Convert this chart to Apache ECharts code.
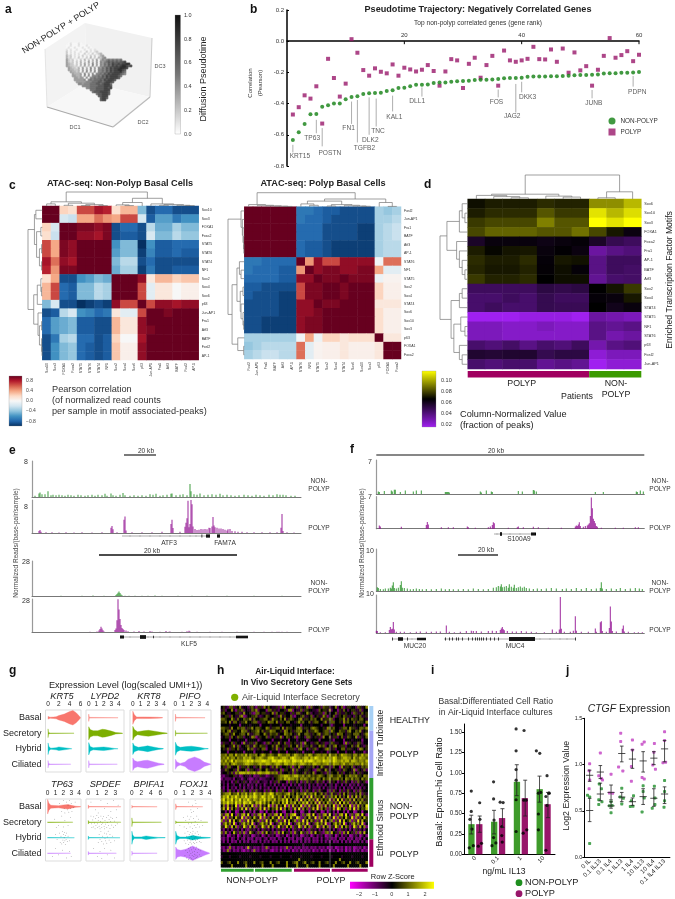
<!DOCTYPE html>
<html><head><meta charset="utf-8"><title>Figure</title>
<style>html,body{margin:0;padding:0;background:#fff}#c{width:675px;height:899px}</style>
<script src="https://cdn.jsdelivr.net/npm/echarts@6/dist/echarts.min.js"></script>
</head><body><div id="c"></div>
<script>
const FONT='"Liberation Sans",Arial,sans-serif';
const GREEN='#1f8f1f',PURPLE='#9b1b6b',TRACKG='#1c8c1c',TRACKP='#8b008b';

/* ---------- panel a: pseudotime cloud (grey level per cell, 0 white .. 9 black) ---------- */
const cloudRows=[
"..0100010",
".001000100010",
".0100100010010",
".101001000100101",
".2010100100201012",
".201010100201020123",
".3120101020102020134",
".31201020102030203245",
".4212010203020304035456565656",
".421202030204030405456767676778",
".43220203040305040546576877878899",
".432212030403050405465768787899878",
"..432213040305040546576878889998",
"..43322304040504055657687889987",
"...4332304050405055657687888976",
"....433340504050556576878888765",
"....4433405050555657687888876",
".....44344050556566768788887",
".....444445056566676878887",
"......4444455566677678887",
".......55455566677678886",
".........555566667778887",
"...........5566677778878",
".............6667777888",
"..............677788887",
"................6778887",
".................77888",
"..................7887",
"..................788"];

/* ---------- panel b ---------- */
const bNonPolyp=[-.634,-.583,-.53,-.468,-.466,-.42,-.41,-.4,-.4,-.372,-.357,-.353,-.338,-.334,-.332,-.33,-.319,-.315,-.3,-.298,-.289,-.279,-.279,-.277,-.268,-.264,-.264,-.26,-.257,-.255,-.253,-.249,-.247,-.247,-.245,-.243,-.238,-.236,-.236,-.234,-.228,-.227,-.227,-.226,-.225,-.224,-.223,-.221,-.219,-.217,-.216,-.215,-.214,-.207,-.206,-.205,-.203,-.202,-.2,-.198];
const bPolyp=[-.47,-.423,-.347,-.368,-.289,-.528,-.113,-.236,-.355,-.272,.013,-.074,-.185,-.221,-.174,-.196,-.206,-.149,-.221,-.17,-.181,-.194,-.183,-.153,-.191,-.285,-.194,-.115,-.123,-.3,-.145,-.106,-.234,-.153,-.094,-.285,-.06,-.123,-.132,-.123,-.113,-.036,-.115,-.117,-.053,-.132,-.047,-.202,-.072,-.187,-.16,-.285,-.183,-.094,.02,-.106,-.089,-.064,-.128,-.087];
const bTicks=[20,40,60];
/* name, label rank, label value, leader rank, leader from, leader to */
const bGenes=[["KRT15",2.2,-.74,1,-.664,-.713],["TP63",4.3,-.62,5,-.504,-.59],["POSTN",7.3,-.715,6,-.557,-.674],["FN1",10.5,-.56,11,-.387,-.53],["TGFB2",13.2,-.687,12,-.377,-.649],["DLK2",14.2,-.634,14,-.36,-.6],["TNC",15.5,-.577,15.2,-.368,-.547],["KAL1",18.3,-.49,18,-.349,-.45],["DLL1",22.2,-.385,23,-.296,-.355],["FOS",35.7,-.39,36,-.31,-.36],["JAG2",38.4,-.483,39,-.274,-.457],["DKK3",41,-.357,40,-.26,-.328],["JUNB",52.3,-.398,52,-.313,-.366],["PDPN",59.7,-.328,59,-.223,-.291]];

/* ---------- panel c ---------- */
const cLeftLabels=["Sox10","Sox3","FOXA1","Foxa2","STAT5","STAT6","STAT4","NF1","Sox2","Sox4","Sox6","p63","Jun-AP1","Fra1","Atf3","BATF","Fosl2","AP-1"];
const cLeft=[
[9,9,2,1.5,6,6,7.5,7,1.5,3,3,-4,-8,-7,-7,-8,-8,-8],
[9,9,-1.5,-2,3.5,3.5,5,4,3.5,6,6,-1.5,-7.5,-5,-5,-6.5,-5.5,-5.5],
[2,-1.5,9,9,8.5,8.5,8,8.5,-8,-7,-7,-8,-2.5,-4.5,-4.5,-3,-4,-4],
[1.5,-2,9,9,8,8,7.5,8.5,-8,-7.5,-7.5,-8,-1.5,-4,-4,-2.5,-3.5,-3.5],
[6,3.5,8.5,8,9,9,9,9,-5.5,-4,-4,-9,-5.5,-7.5,-7.5,-7,-7,-7],
[6,3.5,8.5,8,9,9,9,9,-5,-4,-4,-8.5,-6,-7.5,-7.5,-7,-7.5,-7.5],
[7.5,5,8,7.5,9,9,9,9,-4,-2.5,-2.5,-8,-7,-8,-8,-8,-8,-8],
[7,4,8.5,8.5,9,9,9,9,-4.5,-3,-3,-8.5,-6.5,-8,-8,-7.5,-7.5,-7.5],
[1.5,3.5,-8,-8,-5.5,-5,-4,-4.5,9,9,9,8,1,3,3,2,2.5,2.5],
[3,6,-7,-7.5,-4,-4,-2.5,-3,9,9,9,6,-1,1,1,0,.5,.5],
[3,6,-7,-7.5,-4,-4,-2.5,-3,9,9,9,6,-1,1,1,0,.5,.5],
[-4,-1.5,-8,-8,-9,-8.5,-8,-8.5,8,6,6,9,6,8,8,7.5,8,8],
[-8,-7.5,-2.5,-1.5,-5.5,-6,-7,-6.5,1,-1,-1,6,9,9,8.5,9,9,9],
[-7,-5,-4.5,-4,-7.5,-7.5,-8,-8,3,1,1,8,9,9,9,9,9,9],
[-7,-5,-4.5,-4,-7.5,-7.5,-8,-8,3,1,1,8,8.5,9,9,9,9,9],
[-8,-6.5,-3,-2.5,-7,-7,-8,-7.5,2,0,0,7.5,9,9,9,9,9,9],
[-8,-5.5,-4,-3.5,-7,-7.5,-8,-7.5,2.5,.5,.5,8,9,9,9,9,9,9],
[-8,-5.5,-4,-3.5,-7,-7.5,-8,-7.5,2.5,.5,.5,8,9,9,9,9,9,9]];
const cRightLabels=["Fosl2","Jun-AP1","Fra1","BATF","Atf3","AP-1","STAT6","NF1","STAT5","Sox2","Sox4","STAT4","Sox6","Sox10","Sox3","p63","FOXA1","Foxa2"];
const cRight=[
[9,9,9,9,9,9,-6.5,-6.5,-7,-7.5,-7.5,-8,-8,-8,-8,-3,-3.5,-3],
[9,9,9,9,9,9,-6.5,-7,-7,-7.5,-8,-8,-8,-8,-8,-3,-3,-2.5],
[9,9,9,9,9,9,-7,-7,-7,-8,-8,-8,-8,-8.5,-8.5,-3,-2.5,-2],
[9,9,9,9,9,9,-7,-7,-7,-8,-8,-8,-8,-8.5,-8.5,-3,-2.5,-2],
[9,9,9,9,9,9,-7,-7.5,-7.5,-8,-8.5,-8.5,-8.5,-8.5,-8.5,-3,-2.5,-2.5],
[9,9,9,9,9,9,-7,-7.5,-7.5,-8,-8.5,-8.5,-8.5,-8.5,-8.5,-3,-2.5,-2.5],
[-6.5,-6.5,-7,-7,-7,-7,9,4,8,6,6,8,8,8,8,-.3,5,5],
[-6.5,-7,-7,-7,-7.5,-7.5,4,9,8,8.5,8.5,8,8,8.5,8.5,3.5,-1,-1],
[-7,-7,-7,-7,-7.5,-7.5,8,8,9,8.5,8.5,9,8.5,8.5,8.5,-.5,.3,.3],
[-7.5,-7.5,-8,-8,-8,-8,6,8.5,8.5,9,9,8.5,9,9,9,2,.5,.5],
[-7.5,-8,-8,-8,-8.5,-8.5,6,8.5,8.5,9,9,8.5,9,9,9,2,.5,.5],
[-8,-8,-8,-8,-8.5,-8.5,8,8,9,8.5,8.5,9,9,9,9,1,1,1],
[-8,-8,-8,-8,-8.5,-8.5,8,8,8.5,9,9,9,9,9,9,1.5,.5,.5],
[-8,-8,-8.5,-8.5,-8.5,-8.5,8,8.5,8.5,9,9,9,9,9,9,1.5,.5,.5],
[-8,-8,-8.5,-8.5,-8.5,-8.5,8,8.5,8.5,9,9,9,9,9,9,1.5,.5,.5],
[-3,-3,-3,-3,-3,-3,-.3,3.5,-.5,2,2,1,1.5,1.5,1.5,9,1,1],
[-3.5,-3,-2.5,-2.5,-2.5,-2.5,5,-1,.3,.5,.5,1,.5,.5,.5,1,9,9],
[-3,-2.5,-2,-2,-2.5,-2.5,5,-1,.3,.5,.5,1,.5,.5,.5,1,9,9]];
/* dendrograms: [height,left,right], 0 = leaf */
const cLeftTop=[1,[.3,[.15,0,0],[.2,[.05,0,0],[.1,[.03,0,0],[.03,0,0]]]],[.55,[.25,[.08,0,[.03,0,0]],0],[.15,0,[.1,[.05,0,0],[.05,0,[.03,0,0]]]]]];
const cLeftSide=[1,[.55,[.45,0,0],[.4,[.1,0,0],[.2,[.05,0,0],[.05,0,0]]]],[.6,[.35,[.1,0,[.05,0,0]],0],[.3,0,[.2,[.05,0,0],[.05,0,[.02,0,0]]]]]];
const cRightTop=[1,[.15,0,[.1,0,[.06,0,[.04,0,[.02,0,0]]]]],[.55,[.4,[.2,0,[.1,0,0]],[.15,[.05,0,0],[.1,0,[.05,0,[.03,0,0]]]]],[.3,0,[.02,0,0]]]];
const cRightSide=[1,[.2,0,[.12,0,[.08,0,[.05,0,[.03,0,0]]]]],[.75,[.45,[.3,0,[.2,0,0]],[.25,[.08,0,0],[.2,0,[.08,0,[.04,0,0]]]]],[.4,0,[.04,0,0]]]];

/* ---------- panel d ---------- */
const dLabels=["Sox6","Sox10","Sox3","FOXA1","Foxa2","Fra1","AP-1","BATF","Atf3","Sox2","Sox4","STAT4","STAT5","NF1","STAT6","p63","Fosl2","Jun-AP1"];
const dValues=[
[.5,1,1,1,1.5,1.2,1.2,5,5,6.5],
[1,1.5,1.5,1.5,3,2,2,8,6.5,7.8],
[2,2.5,2.5,2.5,4.5,3,3,9,8,9],
[2.5,3.5,3.5,3.5,3,3,4,2.5,.8,-.6],
[-1.5,-.5,-.5,-.5,-.8,-.5,-.3,-1.5,-3,-3.5],
[1,.2,.7,.8,-.5,-.1,-.6,-6,-5,-4.5],
[1.5,1,1,1.5,-.3,.8,.6,-5,-3.5,-3.5],
[1.3,.8,.8,1.2,-.2,.5,-.3,-5,-3.5,-3.8],
[2,1.2,1.2,1.5,0,.5,.5,-5.5,-4,-3.8],
[-3.5,-3.5,-3.5,-3.5,-2.5,-2.8,-2.5,0,.7,2],
[-4,-4,-3.5,-4,-3,-3.5,-3.5,-.3,-.5,.8],
[-4,-3.5,-4,-4,-3,-3.2,-3.2,0,-1,-.5],
[-9,-9,-9,-8.5,-8.5,-8.5,-9,-6,-6.5,-7],
[-7,-7,-7.5,-7.5,-7,-7.5,-7.5,-5,-5.5,-5],
[-7,-7,-7.5,-7.5,-7.5,-7.5,-7.5,-5,-6.5,-6],
[-4,-4.5,-3.8,-5,-4,-4.5,-3.5,-6.5,-5,-4.5],
[-1.8,-2,-1.8,-1.8,-3,-2.5,-2.5,-8,-7,-7],
[-4,-4.5,-4,-4,-5.5,-5,-5.5,-9,-8,-8]];
const dTop=[1,[.2,[.15,0,[.1,0,[.05,0,0]]],[.12,0,[.08,0,0]]],[.3,[.05,0,0],0]];
const dSide=[1,[.75,[.3,[.2,0,[.1,0,0]],0],[.4,0,[.3,0,[.2,0,[.1,0,0]]]]],[.6,[.3,[.2,0,0],0],[.5,[.25,0,[.1,0,0]],[.3,0,[.2,0,0]]]]];

/* ---------- panels e and f: tracks as [bin,reads] ---------- */
const e1=[[3,.3],[7,.8],[8,1],[10,.6],[13,.6],[16,1.3],[19,.4],[21,.5],[24,.4],[27,.5],[30,.4],[33,.3],[36,.5],[39,.4],[42,.3],[46,.5],[49,.4],[53,.3],[56,.4],[60,.5],[63,.3],[66,.5],[70,.4],[73,.7],[75,.3],[79,.8],[81,.4],[84,.3],[88,.5],[91,.9],[93,.4],[98,.3],[102,.4],[106,.3],[110,.4],[114,.3],[118,.6],[121,.5],[124,.7],[128,.3],[131,.4],[135,.5],[139,.7],[140,.8],[144,.4],[148,.5],[151,.6],[155,.4],[158,2.9],[159,1.3],[162,.6],[165,.5],[168,.8],[172,.4],[176,.5],[180,.6],[184,.5],[188,.7],[191,.4],[195,.5],[199,.4],[203,.3],[207,.4],[212,.5],[216,.4],[220,.3],[224,.5],[228,.4],[232,.3],[237,.5],[241,.4],[245,.6],[248,.5],[251,.5],[254,.4],[259,.3],[263,.3]];
const e2=[[7,.5],[8,.7],[9,.3],[14,.2],[20,.2],[27,.15],[34,.2],[42,.15],[50,.2],[60,.15],[70,.2],[79,1.3],[80,1.7],[81,.9],[85,.2],[92,3.2],[93,4],[94,.6],[100,.2],[110,.2],[120,.2],[130,.3],[139,2.2],[140,3.2],[141,1.2],[148,.3],[153,1.5],[154,2.5],[155,3.6],[156,7.8],[157,1.4],[158,2.2],[159,8],[160,7],[161,1.6],[163,1],[165,.7],[167,.8],[169,1],[171,.9],[173,1],[175,.9],[177,1.3],[178,1.2],[180,1.6],[181,3.9],[182,1.8],[183,1.4],[185,1.3],[187,1.1],[189,1.1],[191,1],[193,.8],[195,.6],[196,.9],[198,1],[200,.5],[203,.4],[206,.3],[210,.3],[215,.2],[222,.2],[230,.2],[238,.2],[245,.2],[249,1.3],[250,4.6],[251,.5],[255,.2],[262,.15]];
const e3=[[29,.3],[50,.3],[61,.4],[72,.2],[84,.8],[85,1.6],[86,2.6],[87,3.7],[88,2.4],[89,1.2],[90,.6],[93,.3],[97,.3],[103,.2],[110,.3],[116,.3],[123,.5],[130,.2],[146,.2],[160,.2],[175,.2],[195,.2],[222,.3],[250,.2]];
const e4=[[58,.2],[65,.5],[67,1.2],[68,2.6],[69,4.5],[70,3],[71,1.5],[72,.4],[83,1.6],[84,3],[85,10],[86,27.7],[87,19],[88,11],[89,6],[90,3.5],[91,2.5],[92,1.8],[94,1.2],[96,.7],[102,.5],[107,.8],[112,.5],[118,.8],[120,.4],[128,.3],[134,.8],[137,.3],[150,.3],[155,.6],[138,.4],[157,1],[158,.5],[165,.2],[178,.2],[190,.3],[205,.3],[222,.3],[232,.2],[240,.3],[250,.3],[247,.2],[255,.2],[245,.3]];
const f1=[[2,.5],[3,.4],[8,.6],[15,.7],[16,.5],[18,.9],[19,.9],[24,.4],[29,.7],[37,.5],[40,.7],[45,.7],[69,.4],[70,.4],[71,.4],[72,.4],[73,.3],[104,.5],[105,.3],[110,.7],[115,.5],[116,.4],[142,.6],[146,.5],[157,.8],[158,.7],[160,.5],[219,.4],[227,.4],[260,.5],[261,.4],[264,.7],[267,.5]];
const f2=[[3,.7],[4,.5],[25,.4],[50,.8],[51,1.45],[52,.9],[65,.3],[72,.3],[77,.3],[91,.5],[92,.3],[99,.2],[112,.3],[114,.5],[116,.8],[117,1.4],[118,1.2],[132,.2],[141,.3],[142,.5],[147,.3],[157,.4],[162,.3],[172,.2],[185,.2],[199,.5],[200,.7],[201,.6],[202,.9],[203,1.4],[204,.6],[207,.4],[209,.6],[211,.7],[212,.9],[213,1.2],[214,2.8],[215,6.8],[216,4.5],[217,2.2],[218,1.7],[219,1.2],[220,.6],[221,.4],[225,.2],[239,.2],[247,.2],[259,.3],[262,.3]];
const f3=[[1,.9],[2,.7],[4,.5],[7,.4],[9,.6],[12,.6],[14,.8],[15,.6],[16,1.3],[17,2.1],[18,.7],[20,.6],[22,.8],[24,1.4],[25,2.3],[26,.8],[28,.7],[31,.6],[34,.4],[37,.5],[40,.6],[43,.5],[46,.4],[50,.5],[55,.4],[60,.5],[65,.6],[69,.4],[73,.5],[77,.4],[82,.4],[87,.5],[92,.4],[97,.6],[102,.5],[107,.4],[112,.5],[117,.8],[120,.9],[122,1.2],[124,1.1],[125,1.6],[126,.9],[128,1],[130,1.2],[132,.8],[133,1.6],[135,1],[137,.8],[138,1.5],[140,.7],[142,.9],[144,1.1],[146,.8],[148,1],[150,.7],[153,.6],[157,.5],[161,.6],[165,.5],[170,.6],[175,.7],[180,.6],[186,.5],[190,.6],[195,.5],[200,.7],[205,.5],[210,.7],[215,.5],[220,.6],[224,.7],[225,2.1],[226,.6],[230,.5],[235,.6],[240,.5],[244,.7],[249,.5],[254,.6],[259,.7],[263,.6],[266,.5]];
const f4=[[0,.6],[1,.5],[4,.2],[9,.2],[13,.8],[14,1.6],[15,1],[16,1.1],[17,2.9],[18,.9],[20,.3],[24,.3],[28,.3],[34,.2],[40,.3],[44,.4],[50,.3],[55,.3],[60,.4],[64,.4],[70,2],[73,.3],[78,.2],[84,.3],[90,.5],[95,.6],[97,.5],[100,.5],[105,.4],[112,.5],[116,.6],[120,.5],[124,.8],[125,1.2],[126,1.6],[127,1],[128,.7],[131,.5],[136,.4],[140,.4],[145,.5],[150,.4],[155,.3],[160,.2],[168,.2],[176,.9],[180,.3],[183,.9],[184,9.5],[185,1.1],[188,.3],[194,.3],[197,.6],[199,4.4],[200,.6],[205,.3],[212,.3],[219,1.2],[220,.3],[224,2.8],[225,3.1],[226,.5],[230,.3],[233,1.3],[234,7],[235,3],[236,.5],[240,.4],[246,1.1],[247,2],[248,.4],[252,.3],[258,.2],[262,.2],[266,.2]];

/* ---------- panel g ---------- */
const gRows=["Basal","Secretory","Hybrid","Ciliated"];
const gColors=["#f8766d","#7cae00","#00bfc4","#c77cff"];
const gPanels=[
{name:"KRT5",ticks:[0,2,4,6],min:-.47,max:6.1,prof:[
 [[0,.2],[.1,.15],[.4,.08],[1,.1],[1.5,.15],[2,.3],[3,.5],[4,.85],[4.6,1],[5.2,.7],[5.7,.3],[6,.05]],
 [[0,.6],[.08,.1],[.4,.03],[4.8,.015]],
 [[0,.8],[.15,.3],[.5,.08],[1.5,.15],[2,.25],[3,.15],[4,.05],[4.4,.015]],
 [[0,.5],[.08,.1],[.4,.03],[4.2,.015]]]},
{name:"LYPD2",ticks:[0,1,2,3,4],min:-.36,max:4.7,prof:[
 [[0,.5],[.08,.05],[3.9,.015]],
 [[0,.9],[.2,.5],[.6,.35],[1.2,.35],[1.8,.55],[2.2,.5],[3,.3],[3.6,.1],[4.5,.02]],
 [[0,.85],[.2,.3],[.6,.15],[1.4,.2],[2,.25],[2.8,.15],[3.4,.05],[3.9,.015]],
 [[0,.5],[.08,.05],[3.8,.015]]]},
{name:"KRT8",ticks:[0,1,2,3,4],min:-.36,max:4.5,prof:[
 [[0,.9],[.2,.4],[.5,.1],[1.2,.12],[2.2,.1],[3.2,.07],[3.8,.02]],
 [[0,.95],[.2,.5],[.6,.2],[1.4,.35],[2,.4],[3,.25],[3.8,.1],[4.4,.02]],
 [[0,.8],[.2,.4],[.7,.2],[1.4,.3],[1.9,.4],[2.6,.25],[3.3,.1],[3.9,.02]],
 [[0,.85],[.2,.5],[.6,.35],[1.4,.5],[1.9,.55],[2.6,.35],[3.3,.15],[4,.02]]]},
{name:"PIFO",ticks:[0,1,2,3,4],min:-.3,max:4.45,prof:[
 [[0,.5],[.08,.05],[3.7,.015]],
 [[0,.4],[.08,.05],[4,.015]],
 [[0,.9],[.2,.4],[.6,.2],[1.4,.3],[2,.35],[3,.2],[3.7,.05],[4.1,.02]],
 [[0,.7],[.2,.3],[.6,.12],[1.2,.3],[1.6,.7],[2.4,1],[3.1,.7],[3.6,.3],[4.4,.03]]]},
{name:"TP63",ticks:[0,1,2,3,4],min:-.27,max:4.25,prof:[
 [[0,1],[.15,.5],[.4,.2],[1.4,.15],[2,.25],[2.6,.3],[3,.2],[3.6,.07],[4.2,.02]],
 [[0,.05],[.1,.02],[3.2,.015]],
 [[0,.05],[.1,.02],[3.4,.015]],
 [[0,.05],[.1,.02],[2.9,.015]]]},
{name:"SPDEF",ticks:[0,1,2,3],min:-.25,max:3.95,prof:[
 [[0,.25],[.1,.02],[3.6,.015]],
 [[0,.25],[.1,.02],[3.6,.015]],
 [[0,.25],[.1,.02],[3.5,.015]],
 [[0,.25],[.1,.02],[3.1,.015]]]},
{name:"BPIFA1",ticks:[0,2,4,6],min:-.4,max:7.6,prof:[
 [[0,.2],[.1,.02],[5.3,.015]],
 [[0,.6],[.1,.05],[6.2,.015]],
 [[0,.9],[.15,.4],[.5,.12],[2,.12],[3,.25],[4,.15],[5.5,.05],[7,.02]],
 [[0,.3],[.1,.03],[5.3,.015]]]},
{name:"FOXJ1",ticks:[0,1,2,3,4],min:-.2,max:4.3,prof:[
 [[0,.4],[.1,.02],[3.2,.015]],
 [[0,.2],[.1,.02],[3.8,.015]],
 [[0,.9],[.15,.3],[.5,.1],[1.2,.1],[2,.3],[3,.1],[4.1,.02]],
 [[0,.85],[.2,.5],[.6,.4],[1.2,.55],[2,1],[2.8,.6],[3.5,.25],[4,.05]]]}];
/* jitter: gene index, [x,row,offset within band] */
const gDots={4:[[1.5,0,-.2],[1.8,0,.3],[2,0,-.4],[2.1,0,.1],[2.2,0,.4],[2.4,0,-.3],[2.5,0,.2],[2.6,0,-.1],[2.7,0,.35],[2.8,0,-.4],[2.9,0,.1],[3,0,-.2],[3.1,0,.3],[3.3,0,.05],[3.5,0,-.3],
 [.9,1,-.2],[1.4,1,.2],[1.8,1,-.4],[2,1,.3],[2.2,1,-.1],[2.6,1,.2],[2.9,1,-.3],[1.1,1,.35],
 [1.2,2,.1],[1.5,2,-.3],[1.6,2,.3],[1.7,2,-.1],[1.8,2,.4],[1.9,2,-.4],[1.95,2,.15],[2,2,-.2],[2.05,2,.3],[2.1,2,0],[2.15,2,-.35],[2.2,2,.2],[2.25,2,.42],[2.3,2,-.15],[2.35,2,.1],[2.4,2,-.3],[2.5,2,.25],[2.6,2,-.1],[2.8,2,.2],[1,2,-.2],
 [.6,3,.2],[1,3,-.3],[1.4,3,.1],[1.9,3,-.2],[2.4,3,.3],[2.8,3,-.1],[3,3,.2]],
5:[[.3,0,-.3],[.8,0,.2],[1.1,0,.4],[1.4,0,-.4],[1.8,0,.1],[2.1,0,-.2],[2.5,0,.3],[2.8,0,-.4],[3.1,0,.2],[3.3,0,-.1],
 [.3,1,-.4],[.35,1,.1],[.4,1,.35],[.5,1,-.15],[.55,1,.3],[.6,1,-.35],[.7,1,.05],[.75,1,.42],[.8,1,-.25],[.85,1,.2],[.95,1,-.42],[1,1,.1],[1.05,1,.35],[1.1,1,-.1],[1.15,1,-.3],[1.2,1,.25],[1.3,1,.42],[1.35,1,-.05],[1.4,1,-.4],[1.45,1,.15],[1.5,1,.33],[1.55,1,-.22],[1.6,1,.05],[1.7,1,-.38],[1.75,1,.28],[1.8,1,.42],[1.85,1,-.12],[1.9,1,.12],[2,1,-.3],[2.05,1,.35],[2.1,1,.02],[2.2,1,-.42],[2.25,1,.22],[2.3,1,-.18],[2.4,1,.4],[2.45,1,-.05],[2.5,1,-.33],[2.6,1,.18],[2.7,1,-.25],[2.8,1,.32],[2.9,1,-.08],[3,1,.22],[3.1,1,-.3],[3.2,1,.1],
 [1.1,2,.3],[1.2,2,-.2],[1.3,2,.1],[1.4,2,-.4],[1.5,2,.25],[1.6,2,-.1],[1.7,2,.4],[1.8,2,-.3],[1.85,2,.05],[1.9,2,.2],[2,2,-.25],[2.05,2,.35],[2.1,2,-.05],[2.2,2,-.42],[2.3,2,.15],[2.4,2,-.2],[2.5,2,.3],[2.7,2,-.1],[2.9,2,.2],
 [.6,3,-.3],[1,3,.2],[1.3,3,-.1],[1.5,3,.35],[1.8,3,-.3],[2.1,3,.1],[2.5,3,-.2],[2.9,3,.3]],
7:[[1.5,0,-.3],[1.8,0,.2],[2,0,-.1],[2.1,0,.3],[2.3,0,-.4],[2.6,0,.1],[1.9,0,.38],[2.4,0,-.2],
 [.5,1,.2],[.9,1,-.3],[1,1,.3],[1.2,1,-.1],[1.3,1,.4],[1.4,1,-.4],[1.5,1,.1],[1.6,1,-.2],[1.7,1,.3],[1.8,1,-.35],[1.9,1,.05],[2,1,.4],[2.1,1,-.25],[2.2,1,.2],[2.3,1,-.05],[2.4,1,.35],[2.5,1,-.4],[2.6,1,.15],[2.7,1,-.2],[2.8,1,.3],[3,1,-.1],[3.2,1,.2],
 [1,2,.2],[1.1,2,-.3],[1.2,2,.35],[1.3,2,-.1],[1.4,2,.15],[1.45,2,-.4],[1.5,2,.42],[1.6,2,-.2],[1.65,2,.05],[1.7,2,.3],[1.75,2,-.35],[1.8,2,.2],[1.85,2,-.08],[1.9,2,.4],[1.95,2,-.25],[2,2,.1],[2.05,2,-.42],[2.1,2,.3],[2.15,2,-.15],[2.2,2,.02],[2.25,2,.38],[2.3,2,-.3],[2.35,2,.18],[2.4,2,-.05],[2.5,2,.3],[2.55,2,-.38],[2.6,2,.1],[2.7,2,-.2],[2.8,2,.25],[2.9,2,-.1],[3,2,.3],
 [1.1,3,.15],[1.2,3,-.2],[1.3,3,.3],[1.4,3,-.05],[1.5,3,.4],[1.55,3,-.3],[1.6,3,.12],[1.65,3,-.15],[1.7,3,.28],[1.75,3,-.4],[1.8,3,.02],[1.85,3,.36],[1.9,3,-.22],[1.95,3,.16],[2,3,-.08],[2.05,3,.42],[2.1,3,-.34],[2.15,3,.22],[2.2,3,-.12],[2.25,3,.06],[2.3,3,.32],[2.35,3,-.26],[2.4,3,.12],[2.45,3,-.4],[2.5,3,.26],[2.55,3,-.06],[2.6,3,.18],[2.7,3,-.24],[2.8,3,.1],[2.9,3,-.16],[3,3,.2]]};

/* ---------- panel h: row z-score, digit 4 = 0 ---------- */
const hRows=[
"453266254734425631552746433526174455362543716344526553347246135544265347",
"352447315562433657244416635324452771433625544332645537244153642455336244",
"564334455237445216645533472645534425366344752433551643446253354426533645",
"345526433671244556323465443527354462144563346245337514462354653342546335",
"665447536446557364455664375546473565446735546564473556624455736465546643",
"556473664355744566235547664735546644357564463566445735664453756446365547",
"444434444144443444414444344442444434444144443444424444134444144443444414",
"665537446566355746654476355664736554467635546765445376564435664755346657",
"564673554476634556746355766445376453566744635576445663754465536744657345",
"456635744566473356644753655634476564357446653546735664453766435546664357",
"345526436552443761354462545337246543615442663453527446355246336544725346",
"444414443444144444134444414443444144424444134444144444314444144434444144",
"253346254417335526443156245373462254533617442356435224653344172543365244",
"564435736244563375465524463754355264473625546334756245367435524463574325",
"453625546334475623546614453725364455236744153562443675352446635534427645",
"444144434441444414443444144424441444434414444144434414444144424441444413",
"667577586676857667468756765587667756876657687567767758667568776657756867",
"676867757668778657787668897767887689877678868798778687798667887758668776",
"768679687778898978889988799899898879988979899878879888798778788688767768",
"676757876667887766787788767887688778767887676887767786687767866776776867",
"452663447255364425473354263752445361547234553642475335264417355462433656",
"336544527344615543264475335246155437263445534216634752445323654437154362",
"344536276888787786887788676726344536254436354724453263544635244536425344",
"213344523124332412253312335567788767886675675656765466755675465766755476",
"132223143313421132312233424567687877675767656757647567566756476575664756",
"324241352435241325143224135263441625364152635426351426354135263415263451",
"424143244142413241424134241424132414241342414241324144241341424132414244",
"314142314241423142414231424142314143423142414223141424231424142314241424",
"524163241526341526334152634152634126354152634152634415263415236341526344",
"567785668576857697675867985766567856475668567584573624735263746253647253",
"687968797687968798679868796576385746586473829375648263758473648274837465",
"796879687968797687687968768576869574682937485729374658273948265738465735",
"687978697869879658796857486574869576847586937482937485627394857263748565",
"472836491728364917283649172836491728364917283649172836491728364917283649",
"583927461583927461583927465839274615839274615839274615382974615839274658",
"441404401440441404401404414044104414044014404414401404414044140440144044",
"627839416278394162783941627839416278934162783941627839416278394162783941",
"391726485391726485391726485391726485397126485391726485391726485391726485",
"716293845716293845716293845716293845716293847516293845716293845716293845",
"268573914268573914268573914268573914268573914268573912468573914268573914",
"539628471539628471539628471593628471539628471539628471539628475139628471",
"314241532414215324141532414253124141532414215324141532414215324141532414",
"627314852627138542617384526173845261734852617384521673845261738452617384",
"324013240241324013240241324013240241324013240241324013240241324013240241",
"213141241421412141214214121412414121412141214121414214121412141214121414",
"314141214141314121414131412141413141214141314121414131412141413141214141",
"444424444444444444442444444444444444444424444444444444444444444444444444",
"213172131213182312131271312131217213121312131213121302130121302130121302",
"312713121310213172131213102130312130213021213021302130213021302130213021",
"444444444444444444444444444444444444444444444444444444444444444444444444",
"344434444344443444434444344443444434444344443444434444344443444434444344",
"444444444444444444444444444444444444447444444444444444444474444444444444",
"644564447445644474456444744564447445674457445644744564447445644744564447",
"444447444444744444447444474444447444474444744444744444474444447444447444"];

/* ---------- panel i ---------- */
const iCats=["0","0.1","1","10"];
const iNonPolyp=[.37,.40,.89,.80];
const iPolyp=[.37,.445,.69,.615];
const iNonPolypErr=[[.25,.48],[.25,.54],[.72,1.10],[.64,.96]];
const iPolypErr=[[.27,.47],[.33,.56],[.47,.91],[.45,.76]];
const iTicks=[0,.25,.5,.75,1,1.25,1.5];
/* [group position 0..4, value] */
const iDotsNon=[[.32,.776],[.32,.527],[.26,.43],[.35,.31],[.23,.08],[.41,.106],[1.3,.89],[1.3,.68],[1.32,.42],[1.3,.205],[1.23,.106],[1.4,.14],[2.29,1.54],[2.29,1.27],[2.29,1.04],[2.29,.91],[2.29,.67],[2.29,.28],[3.18,1.27],[3.33,1.24],[3.27,.75],[3.37,.76],[3.27,.495],[3.27,.30]];
const iDotsPol=[[.69,.633],[.63,.10],[.77,.135],[.7,.43],[1.59,.64],[1.72,.635],[1.66,.34],[1.66,.23],[1.68,.15],[2.64,1.52],[2.63,.665],[2.73,.665],[2.6,.26],[2.76,.30],[3.65,.965],[3.6,.71],[3.72,.75],[3.75,.75],[3.6,.05],[3.65,.6]];

/* ---------- panel j ---------- */
const jCats=["0 IL","0.1 IL13","0.1 IL4","1 IL13","1 IL4","10 IL13","10 IL4","0.1 IL4 IL13"];
const jPolyp=[[.5,1.01],[.45,.935],[.5,.835],[.45,.74],[1.5,1.126],[1.35,.88],[1.7,.835],[1.6,.85],[2.5,.895],[2.35,.695],[2.65,.69],[3.4,1.34],[3.4,1.25],[3.2,.975],[3.6,.93],[4.5,1.266],[4.5,1.158],[4.4,.98],[4.4,.82],[5.6,1.245],[5.4,1.22],[5.4,.86],[5.6,.845],[6.55,1.227],[6.5,1.133],[6.4,.996],[6.65,.95],[7.5,1.356],[7.5,1.26],[7.35,1.02],[7.6,1.025]];
const jNon=[[.3,.67],[.5,.65],[.5,.15],[1.4,.79],[1.6,.74],[1.35,.62],[1.65,.6],[1.35,.57],[2.6,.56],[2.5,.60],[2.35,.555],[2.5,.48],[3.5,.745],[3.35,.65],[3.65,.637],[3.5,.575],[4.6,.665],[4.4,.61],[4.3,.547],[4.55,.55],[5.5,.773],[5.5,.71],[5.6,.64],[5.4,.49],[6.55,.766],[6.6,.64],[6.6,.57],[6.35,.53],[7.5,.83],[7.5,.71],[7.5,.61],[7.45,.54]];
const jPolypStats=[[.885,.82,.94],[.92,.85,.99],[.70,.62,.78],[1.12,1.03,1.2],[1.06,.96,1.16],[1.04,.92,1.14],[1.07,1.0,1.14],[1.17,1.03,1.26]];
const jNonStats=[[.505,.385,.637],[.683,.61,.80],[.555,.53,.60],[.65,.60,.70],[.60,.56,.64],[.655,.57,.74],[.637,.55,.74],[.683,.58,.76]];

/* ================= assembly ================= */
const chart=echarts.init(document.getElementById('c'),null,{renderer:'canvas'});
const grid=[],xAxis=[],yAxis=[],series=[],visualMap=[],graphic=[];
function addGrid(box,x,y){grid.push(box);const gi=grid.length-1;x.gridIndex=gi;y.gridIndex=gi;xAxis.push(x);yAxis.push(y);return {x:xAxis.length-1,y:yAxis.length-1,g:gi};}
const hv=(min,max,extra)=>Object.assign({type:'value',min,max,show:false},extra||{});
const txt=(x,y,text,o)=>{o=o||{};graphic.push({type:'text',x,y,rotation:(o.rot||0)*Math.PI/180,z:20,silent:true,style:{text,fontSize:o.size||8,fontFamily:FONT,fontWeight:o.bold?'bold':'normal',fontStyle:o.italic?'italic':'normal',fill:o.color||'#222',textAlign:o.align||'left',textVerticalAlign:'middle',lineHeight:o.lh}});};
const rect=(x,y,w,h,fill)=>graphic.push({type:'rect',shape:{x,y,width:w,height:h},silent:true,style:{fill}});
const hline=(x1,y1,x2,y2,stroke,w)=>graphic.push({type:'line',shape:{x1,y1,x2,y2},silent:true,z:5,style:{stroke,lineWidth:w||1}});
const poly=(points,fill,stroke,w)=>graphic.push({type:'polygon',shape:{points},silent:true,z:-1,style:{fill,stroke:stroke||null,lineWidth:w||0}});
const gradBar=(x,y,w,h,cols)=>graphic.push({type:'rect',shape:{x,y,width:w,height:h},silent:true,style:{stroke:'#888',lineWidth:.3,fill:new echarts.graphic.LinearGradient(0,0,0,1,cols.map((c,i)=>({offset:i/(cols.length-1),color:c})))}});

/* panel letters */
[["a",5,10],["b",250,10],["c",9,186],["d",424,185],["e",9,451],["f",350,450],["g",9,671],["h",217,671],["i",431,671],["j",566,671]].forEach(l=>txt(l[1],l[2],l[0],{size:12,bold:true,color:'#111'}));

/* --- a --- */
poly([[45,49],[85,23],[87,82],[47,107]],'#f3f3f3');
poly([[85,23],[152,38],[150,97],[87,82]],'#f1f1f1');
poly([[47,107],[87,82],[150,97],[113,127]],'#f7f7f7');
hline(47,107,113,127,'#aaa',1.2);hline(113,127,150,97,'#bbb',1.2);hline(152,38,150,97,'#ccc',1);hline(45,49,47,107,'#e0e0e0',.8);
{const a=addGrid({left:64,top:43,width:72,height:58},hv(0,36),hv(0,29,{inverse:true}));
 const d=[];cloudRows.forEach((r,i)=>[...r].forEach((ch,j)=>{if(ch!=='.')d.push([j+.5,i+.5,+ch]);}));
 series.push({type:'scatter',xAxisIndex:a.x,yAxisIndex:a.y,data:d,symbolSize:2.9,silent:true,itemStyle:{color:p=>{const v=Math.round(248-p.value[2]*25);return `rgb(${v},${v},${v})`;}}});}
txt(61,28,"NON-POLYP + POLYP",{rot:32,size:8.8,align:'center'});
txt(75,127,"DC1",{size:5.5,color:'#555',align:'center'});txt(143,122,"DC2",{size:5.5,color:'#555',align:'center'});txt(160,66,"DC3",{size:5.5,color:'#555',align:'center'});
gradBar(175,15,5.5,119,['#111','#777','#fff']);
[["1.0",15.3],["0.8",39],["0.6",62.7],["0.4",86.7],["0.2",110.7],["0.0",134.3]].forEach(t=>txt(184,t[1],t[0],{size:5.5,color:'#333'}));
txt(204,79,"Diffusion Pseudotime",{rot:90,size:9,align:'center'});

/* --- b --- */
{const ranks=bNonPolyp.map((_,i)=>i+1);
 const b=addGrid({left:287,top:10,width:352,height:156},
  {type:'value',min:0,max:60,interval:20,position:'top',axisLine:{onZero:true,lineStyle:{color:'#000',width:1.5}},axisTick:{show:false},axisLabel:{show:false},splitLine:{show:false}},
  {type:'value',min:-.8,max:.2,interval:.2,axisLine:{onZero:false,lineStyle:{color:'#000',width:1.5}},axisTick:{inside:true,length:2,lineStyle:{color:'#000'}},axisLabel:{fontSize:6,color:'#333',margin:3,fontFamily:FONT,formatter:v=>v.toFixed(1)},splitLine:{show:false}});
 series.push({name:'NON-POLYP',type:'scatter',xAxisIndex:b.x,yAxisIndex:b.y,symbol:'circle',symbolSize:4,silent:true,z:4,itemStyle:{color:'#118011'},data:ranks.map((r,i)=>[r,bNonPolyp[i]])});
 series.push({name:'POLYP',type:'scatter',xAxisIndex:b.x,yAxisIndex:b.y,symbol:'rect',symbolSize:4,silent:true,z:3,itemStyle:{color:'#99186a'},data:ranks.map((r,i)=>[r,bPolyp[i]])});
 series.push({type:'custom',xAxisIndex:b.x,yAxisIndex:b.y,silent:true,encode:{x:0,y:1},data:bGenes.map(g=>[g[3],g[4],g[5]]),renderItem:(p,api)=>{const a=api.coord([api.value(0),api.value(1)]),c=api.coord([api.value(0),api.value(2)]);return {type:'line',shape:{x1:a[0],y1:a[1],x2:c[0],y2:c[1]},style:{stroke:'#999',lineWidth:.8}};}});
 series.push({type:'scatter',xAxisIndex:b.x,yAxisIndex:b.y,symbolSize:0,silent:true,data:bGenes.map(g=>({value:[g[1],g[2]],name:g[0]})),label:{show:true,position:'inside',formatter:p=>p.name,fontSize:6.6,color:'#333',fontFamily:FONT}});
 /* rank ticks and labels sit on the zero line */
 series.push({type:'custom',xAxisIndex:b.x,yAxisIndex:b.y,silent:true,encode:{x:0,y:1},data:bTicks.map(t=>[t,0]),renderItem:(p,api)=>{const c=api.coord([api.value(0),0]);return {type:'group',children:[{type:'line',shape:{x1:c[0],y1:c[1],x2:c[0],y2:c[1]+3},style:{stroke:'#000',lineWidth:1}},{type:'text',x:c[0],y:c[1]-6,style:{text:String(api.value(0)),fontSize:6,fontFamily:FONT,fill:'#333',textAlign:'center',textVerticalAlign:'middle'}}]};}});
}
txt(478,9,"Pseudotime Trajectory: Negatively Correlated Genes",{size:9.1,bold:true,align:'center'});
txt(478,23,"Top non-polyp correlated genes (gene rank)",{size:6.6,align:'center',color:'#333'});
txt(250,83,"Correlation",{rot:90,size:6,align:'center',color:'#333'});txt(260,83,"(Pearson)",{rot:90,size:6,align:'center',color:'#333'});

/* --- heat + dendrograms --- */
function heatAt(box,rows,rowLabels,colLabels,colors,min,max,labelSize,showX){
 const ax=addGrid(box,
  {type:'category',data:colLabels,splitLine:{show:false},axisLine:{show:false},axisTick:{show:false},axisLabel:{show:!!showX,interval:0,rotate:90,fontSize:labelSize,color:'#333',margin:3,fontFamily:FONT}},
  {type:'category',data:rowLabels,inverse:true,position:'right',splitLine:{show:false},axisLine:{show:false},axisTick:{show:false},axisLabel:{show:true,interval:0,fontSize:labelSize,color:'#333',margin:3,fontFamily:FONT}});
 const d=[];rows.forEach((r,i)=>r.forEach((v,j)=>d.push([j,i,v])));
 series.push({type:'heatmap',xAxisIndex:ax.x,yAxisIndex:ax.y,data:d,silent:true,itemStyle:{borderWidth:0},progressive:0});
 visualMap.push({type:'continuous',show:false,seriesIndex:series.length-1,dimension:2,min,max,inRange:{color:colors}});
}
function merges(tree){let leaf=0;const out=[];(function walk(n){if(n===0){return [(leaf++)+.5,0];}const a=walk(n[1]),b=walk(n[2]);out.push([a[0],a[1],b[0],b[1],n[0]]);return [(a[0]+b[0])/2,n[0]];})(tree);return {list:out,n:leaf};}
function dendro(box,tree,side){
 const m=merges(tree);
 const ax=side?addGrid(box,hv(1,0),hv(0,m.n,{inverse:true})):addGrid(box,hv(0,m.n),hv(0,1));
 series.push({type:'custom',xAxisIndex:ax.x,yAxisIndex:ax.y,silent:true,data:m.list,encode:side?{y:[0,2],x:[1,3,4]}:{x:[0,2],y:[1,3,4]},renderItem:(p,api)=>{
  const v=[0,1,2,3,4].map(i=>api.value(i));
  const P=(l,h)=>side?api.coord([h,l]):api.coord([l,h]);
  return {type:'polyline',shape:{points:[P(v[0],v[1]),P(v[0],v[4]),P(v[2],v[4]),P(v[2],v[3])]},style:{stroke:'#777',lineWidth:.7,fill:null}};}});
}
const RDBU=['#053061','#2166ac','#4393c3','#92c5de','#d1e5f0','#f7f7f7','#fddbc7','#f4a582','#d6604d','#b2182b','#67001f'];
heatAt({left:42.3,top:206,width:156.4,height:154},cLeft,cLeftLabels,cLeftLabels,RDBU,-9,9,3.5,true);
dendro({left:42.3,top:192,width:156.4,height:14},cLeftTop,false);
dendro({left:28,top:206,width:14.3,height:154},cLeftSide,true);
heatAt({left:244.3,top:206.7,width:156.7,height:152.3},cRight,cRightLabels,cRightLabels,RDBU,-9,9,3.5,true);
dendro({left:244.3,top:192.7,width:156.7,height:14},cRightTop,false);
dendro({left:228,top:206.7,width:16.3,height:152.3},cRightSide,true);
txt(120,183,"ATAC-seq: Non-Polyp Basal Cells",{size:9.2,bold:true,align:'center'});
txt(323,183,"ATAC-seq: Polyp Basal Cells",{size:9.2,bold:true,align:'center'});
gradBar(9,376,13,50,RDBU.slice().reverse());
[["0.8",380.7],["0.4",390.7],["0.0",400.7],["\u22120.4",411],["\u22120.8",421.7]].forEach(t=>txt(26,t[1],t[0],{size:5,color:'#444'}));
txt(52,389,"Pearson correlation",{size:9.2,color:'#333'});
txt(52,400,"(of normalized read counts",{size:9.2,color:'#333'});
txt(52,411,"per sample in motif associated-peaks)",{size:9.2,color:'#333'});

/* --- d --- */
const dPatients=["P1","P2","P3","P4","P5","P6","P7","N1","N2","N3"];
const PY=['#a020f0','#000000','#ffff00'];
heatAt({left:467.7,top:199,width:173.6,height:170},dValues,dLabels,dPatients,PY,-9,9,3.8,false);
dendro({left:467.7,top:175,width:173.6,height:24},dTop,false);
dendro({left:440,top:199,width:27.7,height:170},dSide,true);
rect(467.7,371,121.5,6.5,'#a0005f');rect(589.2,371,52.1,6.5,'#3a9a00');
txt(670,280,"Enriched Transcription Factor Motifs",{rot:90,size:8.6,align:'center'});
txt(521.7,384,"POLYP",{size:8.8,align:'center'});txt(616,384,"NON-",{size:8.8,align:'center'});txt(616,395,"POLYP",{size:8.8,align:'center'});
txt(577,397,"Patients",{size:8.8,align:'center'});
gradBar(422,371,14,56,['#ffff00','#000000','#a020f0']);
[["0.10",380],["0.08",391],["0.06",402],["0.04",413],["0.02",424]].forEach(t=>txt(441,t[1],t[0],{size:5.5,color:'#333'}));
txt(460,414,"Column-Normalized Value",{size:9.2});txt(460,425,"(fraction of peaks)",{size:9.2});

/* --- tracks --- */
function track(left,top,w,h,maxY,data,color){
 const ax=addGrid({left,top,width:w,height:h},{type:'value',min:0,max:w,axisLine:{onZero:false,lineStyle:{color:'#777',width:1}},axisTick:{show:false},axisLabel:{show:false},splitLine:{show:false}},
  {type:'value',min:0,max:maxY,axisLine:{show:true,onZero:false,lineStyle:{color:'#999',width:1.2}},axisTick:{show:false},axisLabel:{show:false},splitLine:{show:false}});
 series.push({type:'bar',xAxisIndex:ax.x,yAxisIndex:ax.y,data,barWidth:1,silent:true,itemStyle:{color,opacity:.85}});
}
track(32,461,269,36,8,e1,TRACKG);track(32,500,269,33,8,e2,TRACKP);track(32,561,269,35,28,e3,TRACKG);track(32,599,269,33,28,e4,TRACKP);
track(376.3,460,268,34,7,f1,TRACKG);track(376.3,496.7,268,32,7,f2,TRACKP);track(376.3,549,268,42,10,f3,TRACKG);track(376.3,595,268,38,10,f4,TRACKP);
const lab=(x,y,t,a)=>txt(x,y,t,{size:a||6.6,align:'center',color:'#333'});
lab(26,462,"8",7);lab(26,507,"8",7);lab(26,562,"28",7);lab(26,601,"28",7);
lab(370,462,"7",7);lab(370,497,"7",7);lab(370,551,"10",7);lab(370,594,"10",7);
txt(16,543,"Normalized Reads/(base-pair/sample)",{rot:90,size:6.5,align:'center',color:'#444'});
txt(362,543,"Normalized Reads/(base-pair/sample)",{rot:90,size:6.5,align:'center',color:'#444'});
[[319,481,"NON-"],[319,489,"POLYP"],[319,528,"POLYP"],[319,583,"NON-"],[319,591,"POLYP"],[319,630,"POLYP"],[660,481,"NON-"],[660,489,"POLYP"],[660,528,"POLYP"],[660,583,"NON-"],[660,591,"POLYP"],[660,630,"POLYP"]].forEach(l=>lab(l[0],l[1],l[2]));
/* scale bars */
hline(124,455,156,455,'#222',1.2);lab(146,451,"20 kb");hline(99,555,237,555,'#111',1.4);lab(152,551,"20 kb");
hline(376.3,455,644.3,455,'#111',1.2);lab(496,451,"20 kb");hline(458,555,498,555,'#333',1.4);lab(486,550,"20 kb");
/* gene models: line [x1,x2], y, exons [x,width,height] */
function gene(x1,x2,y,exons,arrows){hline(x1,y,x2,y,'#555',.5);(arrows||[]).forEach(a=>hline(a,y-.8,a,y+.8,'#777',.4));exons.forEach(e=>rect(e[0],y-e[2]/2,e[1],e[2],'#000'));}
gene(122,210,536,[[201.5,.8,3],[206,4,3.2]],[130,140,150,160,170,180,190,196]);gene(217,220,536,[[217,3,3.2]]);
lab(169,543,"ATF3");lab(225,543,"FAM7A");
gene(120,248,637,[[120,4,3],[140,6,3.6],[153,.8,2.5],[236,12,2.6]],[130,148,160,170,180,190,200,210,220,230]);lab(189,644,"KLF5");
gene(494,535,534,[[500,2,3.5],[531,5,3]],[497,510,520]);lab(519,539,"S100A9");
gene(392,426,639,[[392,.8,3],[398,5,3.4],[407,.8,3],[417,9,2.5]],[412]);lab(415,646,"MUC20");
gene(444,576,639,[[445,.8,3],[449,.8,3],[452,.8,3],[456,.8,3],[458,.8,3],[462,.8,3],[468,.8,3],[472,.8,3],[475,.8,3],[477,.8,3],[479,.8,3],[481,.8,3],[483,.8,3],[486,.8,3],[490,.8,3],[494,.8,3],[498,.8,3],[509,26,3.8],[575,.8,3]],[540,550,560,567]);lab(515,646,"MUC4");

/* --- g --- */
const gxTop=[[43,38],[86,38],[130,38],[173,38]],gxBot=[[42,39],[86,38],[130,38],[174,38]];
gPanels.forEach((p,i)=>{
 const top=i<4, col=i%4, box=top?gxTop[col]:gxBot[col];
 const ax=addGrid({left:box[0],top:top?710:799,width:box[1],height:62,show:true,borderColor:'#ddd',borderWidth:1,backgroundColor:'#fff'},
  {type:'value',position:'top',min:p.min,max:p.max,axisLine:{show:false},axisTick:{show:false},splitLine:{show:false},axisLabel:{customValues:p.ticks,fontSize:6.5,color:'#222',margin:2,fontFamily:FONT,showMinLabel:true,showMaxLabel:true}},
  {type:'category',data:gRows,inverse:true,axisLine:{show:false},axisTick:{show:false},splitLine:{show:false},axisLabel:{show:col===0,fontSize:9,color:'#222',margin:4,interval:0,fontFamily:FONT}});
 series.push({type:'custom',xAxisIndex:ax.x,yAxisIndex:ax.y,silent:true,z:3,data:p.prof.map((_,r)=>[0,r]),encode:{x:0,y:1},renderItem:(par,api)=>{
  const r=api.value(1),pr=p.prof[r],c=api.coord([0,r]),band=api.size([0,1])[1]*.47;
  const up=pr.map(q=>[api.coord([q[0],r])[0],c[1]-q[1]*band]),dn=pr.map(q=>[api.coord([q[0],r])[0],c[1]+q[1]*band]).reverse();
  return {type:'polygon',shape:{points:up.concat(dn)},style:{fill:gColors[r],stroke:gColors[r],lineWidth:.35}};}});
 const dots=gDots[i];
 if(dots)series.push({type:'custom',xAxisIndex:ax.x,yAxisIndex:ax.y,silent:true,z:4,data:dots,encode:{x:0,y:1},renderItem:(par,api)=>{
  const c=api.coord([api.value(0),api.value(1)]),band=api.size([0,1])[1];
  return {type:'circle',shape:{cx:c[0],cy:c[1]+api.value(2)*band,r:.38},style:{fill:'#333',opacity:.75}};}});
 txt(top?[62,105,149,190][col]:[62,105,149,194][col],top?696:784,p.name,{size:9.2,italic:true,align:'center'});
});
txt(125.6,685.7,"Expression Level (log(scaled UMI+1))",{size:9.2,align:'center'});

/* --- h --- */
{const nc=Math.max(...hRows.map(r=>r.length));
 const rows=hRows.map(r=>[...r].map(Number));
 const ax=addGrid({left:221,top:706,width:146.7,height:161.3},
  {type:'category',data:Array.from({length:nc},(_,i)=>i),show:false},
  {type:'category',data:hRows.map((_,i)=>i),inverse:true,show:false});
 const d=[];rows.forEach((r,i)=>r.forEach((v,j)=>d.push([j,i,v])));
 series.push({type:'heatmap',xAxisIndex:ax.x,yAxisIndex:ax.y,data:d,silent:true,itemStyle:{borderWidth:0},progressive:0});
 visualMap.push({type:'continuous',show:false,seriesIndex:series.length-1,dimension:2,min:-1,max:9,inRange:{color:['#c800c8','#000000','#e0e000']}});
}
graphic.push({type:'line',shape:{x1:330,y1:706,x2:330,y2:867},z:8,silent:true,style:{stroke:'rgba(255,255,255,.5)',lineWidth:.7}});
txt(295,671.7,"Air-Liquid Interface:",{size:8.4,bold:true,align:'center'});txt(296.7,682.7,"In Vivo Secretory Gene Sets",{size:8.4,bold:true,align:'center'});
graphic.push({type:'circle',shape:{cx:234.7,cy:697.3,r:3.6},silent:true,style:{fill:'#7fb000'}});
txt(242,697.3,"Air-Liquid Interface Secretory",{size:9.1,color:'#444'});
rect(369.3,706,4,24.7,'#a6d0f5');rect(369.3,730.7,4,47.3,'#a5a5f5');rect(369.3,778,4,61.3,'#2f9e2f');rect(369.3,839.3,4,27.5,'#9e0060');
txt(381,743,"Inferior Turbinate",{rot:90,size:8.8,align:'center'});txt(381,828,"Ethmoid Sinus",{rot:90,size:8.8,align:'center'});
[["HEALTHY",720.7],["POLYP",755],["NON-",806.7],["POLYP",817],["POLYP",854.7]].forEach(t=>txt(389.7,t[1],t[0],{size:8.9}));
rect(221,868.7,32.7,3,'#2f9e2f');rect(255,868.7,36.7,3,'#2f9e2f');rect(294,868.7,36,3,'#9e0060');rect(331.7,868.7,36,3,'#9e0060');
txt(252,880.7,"NON-POLYP",{size:8.9,align:'center'});txt(331,880.7,"POLYP",{size:8.9,align:'center'});
txt(392.7,876.7,"Row Z-Score",{size:7.5,align:'center'});
graphic.push({type:'rect',shape:{x:350,y:881.7,width:84,height:7},silent:true,style:{fill:new echarts.graphic.LinearGradient(0,0,1,0,[{offset:0,color:'#ff00ff'},{offset:.5,color:'#000'},{offset:1,color:'#ffff00'}])}});
[["\u22122",359],["\u22121",375],["0",391.7],["1",408],["2",425]].forEach(t=>txt(t[1],894.7,t[0],{size:5.5,align:'center',color:'#333'}));

/* --- i --- */
const errRender=(capW,meanW)=>(p,api)=>{const x=api.value(0),m=api.coord([x,api.value(1)]),lo=api.coord([x,api.value(2)]),hi=api.coord([x,api.value(3)]);const st={stroke:'#222',lineWidth:.8};
 const seg=(x1,y1,x2,y2)=>({type:'line',shape:{x1,y1,x2,y2},style:st});
 const ch=[seg(m[0],lo[1],m[0],hi[1]),seg(m[0]-capW,lo[1],m[0]+capW,lo[1]),seg(m[0]-capW,hi[1],m[0]+capW,hi[1])];
 if(meanW)ch.push(seg(m[0]-meanW,m[1],m[0]+meanW,m[1]));return {type:'group',children:ch};};
{const ax=addGrid({left:464,top:724,width:91,height:130.3},
  {type:'category',data:iCats,axisLine:{lineStyle:{color:'#000',width:1}},axisTick:{length:2,alignWithLabel:true,lineStyle:{color:'#000'}},axisLabel:{rotate:45,fontSize:6,color:'#222',margin:3,fontFamily:FONT},splitLine:{show:false}},
  {type:'value',min:0,max:1.6,axisLine:{show:true,lineStyle:{color:'#000',width:1}},axisTick:{customValues:iTicks,length:2,lineStyle:{color:'#000'}},axisLabel:{customValues:iTicks,fontSize:6.3,color:'#222',margin:2,fontFamily:FONT,formatter:v=>v.toFixed(2)},splitLine:{show:false}});
 xAxis.push(hv(0,4,{gridIndex:ax.g}));const x2=xAxis.length-1;
 const bar=(name,data,color)=>series.push({name,type:'bar',xAxisIndex:ax.x,yAxisIndex:ax.y,data,barWidth:6.3,barGap:'25%',silent:true,itemStyle:{color}});
 bar('Non-polyp culture',iNonPolyp,'#3f9b2b');bar('Polyp culture',iPolyp,'#98166a');
 const dot=(data)=>series.push({type:'scatter',xAxisIndex:x2,yAxisIndex:ax.y,data,symbolSize:3.2,silent:true,z:5,itemStyle:{color:'#000'}});
 dot(iDotsNon);dot(iDotsPol);
 series.push({type:'custom',xAxisIndex:x2,yAxisIndex:ax.y,silent:true,z:6,encode:{x:0,y:1},renderItem:errRender(2,0),
  data:iNonPolyp.map((v,i)=>[i+.32,v,iNonPolypErr[i][0],iNonPolypErr[i][1]]).concat(iPolyp.map((v,i)=>[i+.69,v,iPolypErr[i][0],iPolypErr[i][1]]))});
}
txt(495.7,701.7,"Basal:Differentiated Cell Ratio",{size:8.6,align:'center',color:'#333'});txt(495.7,712.3,"in Air-Liquid Interface cultures",{size:8.6,align:'center',color:'#333'});
txt(439,792,"Basal: Epcam-hi Cell Ratio",{rot:90,size:9.2,align:'center'});
txt(504,872,"ng/mL IL13",{size:8.6,align:'center'});
graphic.push({type:'circle',shape:{cx:519,cy:882.7,r:3.4},silent:true,style:{fill:GREEN}});graphic.push({type:'circle',shape:{cx:519,cy:893.7,r:3.4},silent:true,style:{fill:'#98166a'}});
txt(525,882.7,"NON-POLYP",{size:9.2});txt(525,893.7,"POLYP",{size:9.2});

/* --- j --- */
{const ax=addGrid({left:584.3,top:718.3,width:85.6,height:139},
  {type:'category',data:jCats,axisLine:{lineStyle:{color:'#000',width:1}},axisTick:{length:2,alignWithLabel:true,lineStyle:{color:'#000'}},axisLabel:{rotate:45,interval:0,fontSize:6.3,color:'#222',margin:3,fontFamily:FONT},splitLine:{show:false}},
  {type:'value',min:0,max:1.5,interval:.5,axisLine:{show:true,lineStyle:{color:'#000',width:1}},axisTick:{length:2,lineStyle:{color:'#000'}},axisLabel:{fontSize:5.5,color:'#222',margin:2,fontFamily:FONT,formatter:v=>v.toFixed(1)},splitLine:{show:false}});
 xAxis.push(hv(0,8,{gridIndex:ax.g}));const x2=xAxis.length-1;
 series.push({type:'bar',xAxisIndex:ax.x,yAxisIndex:ax.y,data:[],silent:true});
 const dot=(data,color)=>series.push({type:'scatter',xAxisIndex:x2,yAxisIndex:ax.y,data,symbol:'roundRect',symbolSize:3,silent:true,z:4,itemStyle:{color}});
 dot(jPolyp,'#c23fc2');dot(jNon,'#1f8f2a');
 series.push({type:'custom',xAxisIndex:x2,yAxisIndex:ax.y,silent:true,z:6,encode:{x:0,y:1},renderItem:errRender(1.8,3.6),
  data:jPolypStats.map((s,i)=>[i+.5,s[0],s[1],s[2]]).concat(jNonStats.map((s,i)=>[i+.5,s[0],s[1],s[2]]))});
}
txt(587.7,709,"CTGF",{size:10.4,italic:true});txt(619,709,"Expression",{size:10.4});
txt(567,785.7,"Log2 Expression Value",{rot:90,size:8.8,align:'center'});

chart.setOption({animation:false,backgroundColor:'#fff',textStyle:{fontFamily:FONT},tooltip:{show:false},
 legend:{show:true,data:['NON-POLYP','POLYP'],orient:'vertical',left:608.5,top:117.5,itemWidth:7,itemHeight:7,itemGap:4,selectedMode:false,padding:0,textStyle:{fontSize:6.4,color:'#333',fontFamily:FONT,padding:[0,0,0,0]}},
 grid,xAxis,yAxis,series,visualMap,graphic:{elements:graphic}});
</script></body></html>
